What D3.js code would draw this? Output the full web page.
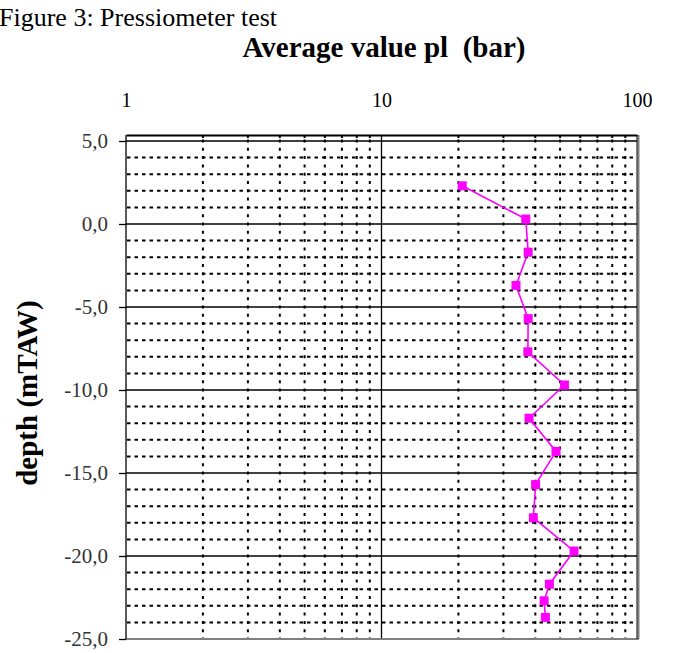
<!DOCTYPE html>
<html>
<head>
<meta charset="utf-8">
<script src="https://cdn.jsdelivr.net/npm/d3@7"></script>
<style>
  body { margin: 0; background: #fff; }
  text { font-family: "Liberation Serif", "Times New Roman", serif; }
</style>
</head>
<body>
<script>
// depth (mTAW) of each pressiometer reading and average limit pressure pl (bar)
const depths = [2.3, 0.3, -1.7, -3.7, -5.7, -7.7, -9.7, -11.7, -13.7, -15.7, -17.7, -19.7, -21.7, -22.7, -23.7]
const plValues = [20.7, 36.7, 37.5, 33.6, 37.5, 37.4, 52.0, 37.8, 48.2, 40.1, 39.3, 56.7, 45.4, 43.3, 43.8]
const xTicks = [1, 10, 100]
const yTicks = [5, 0, -5, -10, -15, -20, -25]

const width = 674
const height = 653
const plotLeft = 126, plotRight = 637, plotTop = 141, plotBottom = 639, axisTopY = 135

const svg = d3.select('body')
  .append('svg')
  .attr('width', width)
  .attr('height', height)

const x = d3.scaleLog().domain([1, 100]).range([plotLeft, plotRight])
const y = d3.scaleLinear().domain([-25, 5]).range([plotBottom, plotTop])

// minor values for the log grid
const minorX = []
for (let dec of [1, 10]) {
  for (let k = 2; k <= 9; k++) minorX.push(dec * k)
}
const minorY = d3.range(-24, 5).filter(d => d % 5 !== 0)

// dotted horizontal grid
svg.append('g')
  .selectAll('line')
  .data(minorY)
  .enter()
  .append('line')
  .attr('x1', plotLeft + 1)
  .attr('x2', plotRight)
  .attr('y1', d => y(d))
  .attr('y2', d => y(d))
  .attr('stroke', '#000')
  .attr('stroke-width', 2)
  .attr('stroke-dasharray', '3.5,4')

// dotted vertical grid
svg.append('g')
  .selectAll('line')
  .data(minorX)
  .enter()
  .append('line')
  .attr('x1', d => x(d))
  .attr('x2', d => x(d))
  .attr('y1', plotTop - 1.5)
  .attr('y2', plotBottom)
  .attr('stroke', '#000')
  .attr('stroke-width', 2)
  .attr('stroke-dasharray', '3,5.3')

// solid major grid
svg.append('g')
  .selectAll('line')
  .data(yTicks.filter(d => d !== -25))
  .enter()
  .append('line')
  .attr('x1', plotLeft)
  .attr('x2', plotRight)
  .attr('y1', d => y(d))
  .attr('y2', d => y(d))
  .attr('stroke', '#000')
  .attr('stroke-width', 1.3)

svg.append('line')
  .attr('x1', x(10)).attr('x2', x(10))
  .attr('y1', axisTopY).attr('y2', plotBottom)
  .attr('stroke', '#000').attr('stroke-width', 1.3)

// plot area frame
svg.append('line')
  .attr('x1', plotLeft).attr('x2', plotRight + 2)
  .attr('y1', plotBottom).attr('y2', plotBottom)
  .attr('stroke', '#808080').attr('stroke-width', 2)
svg.append('line')
  .attr('x1', plotRight + 1.5).attr('x2', plotRight + 1.5)
  .attr('y1', axisTopY).attr('y2', plotBottom)
  .attr('stroke', '#808080').attr('stroke-width', 2)
svg.append('line')
  .attr('x1', plotRight).attr('x2', plotRight)
  .attr('y1', axisTopY).attr('y2', plotBottom)
  .attr('stroke', '#000').attr('stroke-width', 1)

// top x axis
const xAxis = svg.append('g')
  .attr('transform', `translate(0,${axisTopY})`)
  .call(d3.axisTop(x).tickValues(xTicks).tickSize(0).tickPadding(28).tickFormat(d3.format('d')))
xAxis.select('.domain').attr('stroke', '#000').attr('stroke-width', 2)
xAxis.selectAll('text').attr('font-size', 20).attr('fill', '#000')
  .style('font-family', '"Liberation Serif", "Times New Roman", serif')

svg.append('g')
  .selectAll('line')
  .data(minorX)
  .enter()
  .append('line')
  .attr('x1', d => x(d))
  .attr('x2', d => x(d))
  .attr('y1', axisTopY)
  .attr('y2', axisTopY + 3)
  .attr('stroke', '#000')
  .attr('stroke-width', 2)

// left y axis
const yAxis = svg.append('g')
  .attr('transform', `translate(${plotLeft},0)`)
  .call(d3.axisLeft(y).tickValues(yTicks).tickSize(7).tickPadding(11)
    .tickFormat(d => d.toFixed(1).replace('.', ',')))
yAxis.select('.domain').attr('d', `M0,${axisTopY}V${plotBottom}`).attr('stroke', '#000').attr('stroke-width', 1.3)
yAxis.selectAll('.tick line').attr('stroke', '#000').attr('stroke-width', 1.3)
yAxis.selectAll('text').attr('font-size', 21).attr('fill', '#333')
  .style('font-family', '"Liberation Serif", "Times New Roman", serif')

// series
const points = depths.map((d, i) => ({ depth: d, pl: plValues[i] }))

svg.append('path')
  .datum(points)
  .attr('fill', 'none')
  .attr('stroke', '#ff00ff')
  .attr('stroke-width', 1.6)
  .attr('d', d3.line().x(d => x(d.pl)).y(d => y(d.depth)))

svg.append('g')
  .selectAll('rect')
  .data(points)
  .enter()
  .append('rect')
  .attr('x', d => x(d.pl) - 4.5)
  .attr('y', d => y(d.depth) - 4.5)
  .attr('width', 9)
  .attr('height', 9)
  .attr('fill', '#ff00ff')

// titles
svg.append('text')
  .attr('x', -1)
  .attr('y', 26)
  .attr('font-size', 26)
  .text('Figure 3: Pressiometer test')

svg.append('text')
  .attr('x', 384)
  .attr('y', 57)
  .attr('text-anchor', 'middle')
  .attr('font-size', 29)
  .attr('font-weight', 'bold')
  .style('white-space', 'pre')
  .text('Average value pl  (bar)')

svg.append('text')
  .attr('transform', `translate(37,${(plotTop + plotBottom) / 2 + 3}) rotate(-90)`)
  .attr('text-anchor', 'middle')
  .attr('font-size', 29)
  .attr('font-weight', 'bold')
  .text('depth (mTAW)')
</script>
</body>
</html>
